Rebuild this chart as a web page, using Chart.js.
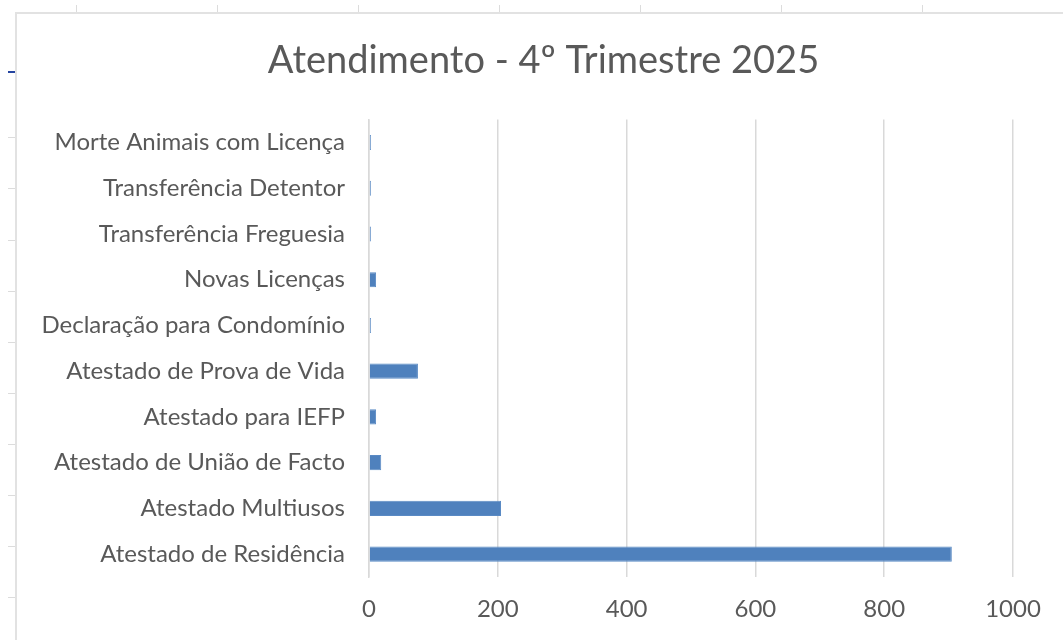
<!DOCTYPE html>
<html>
<head>
<meta charset="utf-8">
<script src="https://cdn.jsdelivr.net/npm/chart.js@4/dist/chart.umd.min.js"></script>
<style>
  html, body { margin: 0; padding: 0; background: #fff; overflow: hidden; }
  body { width: 1063px; height: 640px; position: relative; }
  .frame { position: absolute; left: 15px; top: 12px; width: 1120px; height: 700px;
           border-left: 2px solid #e2e2e2; border-top: 2px solid #e2e2e2; background: #fff; overflow: hidden; }
  .frame canvas { display: block; }
  .row { position: absolute; left: 8px; width: 7px; height: 1px; background: #dcdcdc; }
  .col { position: absolute; top: 5px; width: 1px; height: 7px; background: #dcdcdc; }
</style>
</head>
<body>
<div class="row" style="top:137px"></div>
<div class="row" style="top:188px"></div>
<div class="row" style="top:240px"></div>
<div class="row" style="top:291px"></div>
<div class="row" style="top:342px"></div>
<div class="row" style="top:393px"></div>
<div class="row" style="top:444px"></div>
<div class="row" style="top:495px"></div>
<div class="row" style="top:546px"></div>
<div class="row" style="top:597px"></div>
<div class="row" style="top:71px;height:2px;background:#2545a0"></div>
<div class="col" style="left:76px"></div>
<div class="col" style="left:217px"></div>
<div class="col" style="left:358px"></div>
<div class="col" style="left:499px"></div>
<div class="col" style="left:640px"></div>
<div class="col" style="left:781px"></div>
<div class="col" style="left:922px"></div>
<div class="frame">
  <canvas id="chart" width="1053" height="626"></canvas>
</div>
<script>
var categories = [
  "Morte Animais com Licença",
  "Transferência Detentor",
  "Transferência Freguesia",
  "Novas Licenças",
  "Declaração para Condomínio",
  "Atestado de Prova de Vida",
  "Atestado para IEFP",
  "Atestado de União de Facto",
  "Atestado Multiusos",
  "Atestado de Residência"
];
var values = [3, 3, 3, 11, 3, 76, 11, 19, 205, 905];
var xTicks = [0, 200, 400, 600, 800, 1000];

var textColor = "#595959";
var gridColor = "#d9d9d9";

new Chart(document.getElementById("chart"), {
  type: "bar",
  data: {
    labels: categories,
    datasets: [{
      data: values,
      backgroundColor: "#4f81bd",
      borderColor: "#5a8ac4",
      borderWidth: 1,
      barPercentage: 0.33,
      categoryPercentage: 1
    }]
  },
  options: {
    indexAxis: "y",
    responsive: false,
    animation: false,
    layout: { padding: 0 },
    plugins: {
      legend: { display: false },
      tooltip: { enabled: false },
      title: {
        display: true,
        text: "Atendimento - 4º Trimestre 2025",
        color: textColor,
        font: { family: "Lato", size: 38, weight: "normal" },
        padding: { top: 24, bottom: 36 }
      }
    },
    scales: {
      x: {
        min: 0,
        max: 1000,
        afterBuildTicks: function (scale) {
          scale.ticks = xTicks.map(function (v) { return { value: v }; });
        },
        afterFit: function (scale) { scale.height = 63; },
        grid: { color: gridColor, lineWidth: 1.5, drawTicks: false },
        border: { display: false },
        ticks: {
          color: textColor,
          padding: 18,
          font: { family: "Lato", size: 24 },
          callback: function (v) { return String(v); }
        }
      },
      y: {
        afterFit: function (scale) { scale.width = 352; },
        grid: { display: false, drawTicks: false },
        border: { display: true, color: gridColor, width: 1.5 },
        ticks: { color: textColor, padding: 24, font: { family: "Lato", size: 24 } }
      },
      // empty right-hand gap (the plot stops short of the chart's right edge)
      gap: {
        type: "linear",
        position: "right",
        afterFit: function (scale) { scale.width = 57; },
        grid: { display: false, drawTicks: false },
        border: { display: false },
        ticks: { display: false }
      }
    }
  }
});
</script>
</body>
</html>
